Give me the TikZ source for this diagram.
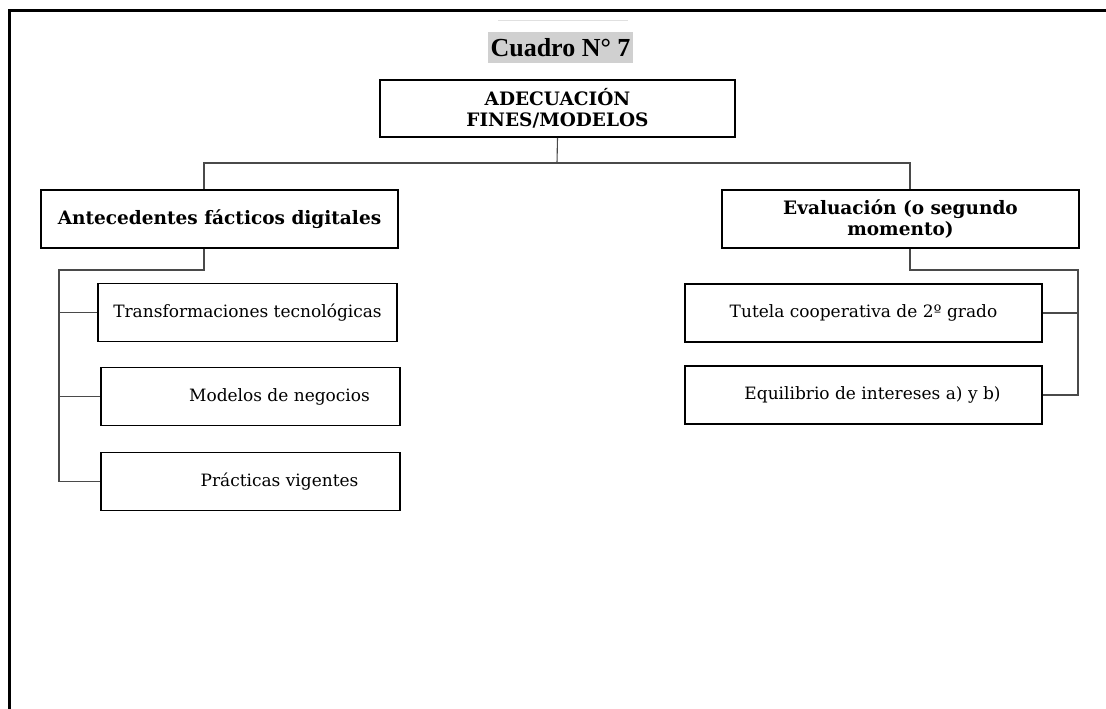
\documentclass[tikz,border=0pt]{standalone}
\usepackage{fontspec}
\setmainfont{DejaVu Serif}
\newfontfamily\titlefont{Liberation Serif}
\definecolor{titlegray}{HTML}{D0D0D0}
\definecolor{linkgray}{HTML}{4A4A4A}

\begin{document}
\begin{tikzpicture}[
            x=1pt, y=-1pt,
            boxnode/.style={
                draw, line width=1.8pt, align=center, inner sep=2pt,
                minimum width=357pt, minimum height=58pt,
                font=\fontsize{17}{21}\selectfont
            },
            headnode/.style={
                boxnode, font=\bfseries\fontsize{18.5}{21.5}\selectfont
            },
            itemnode/.style={
                boxnode, minimum width=299pt
            },
            link/.style={
                draw=linkgray, line width=1.1pt
            }
        ]
        \useasboundingbox (0,0) rectangle (1106,709);
        \draw[line width=3pt] (9,709) -- (9,11) -- (1106,11);
        \draw[black!12, line width=0.8pt] (498,20) -- (628,20);

        % nodes
        \node[fill=titlegray, minimum width=145pt, minimum height=31pt, inner sep=0pt,
              font=\titlefont\bfseries\fontsize{26}{26}\selectfont] (title) at (560.5,47.5) {Cuadro N° 7};
        \node[headnode, minimum width=355pt, minimum height=57pt] (top) at (557.5,108.5) {ADECUACIÓN\\FINES/MODELOS};
        \node[headnode] (ant) at (219.5,219) {Antecedentes fácticos digitales};
        \node[headnode] (eval) at (900.5,219) {Evaluación (o segundo\\momento)};
        \node[itemnode] (trans) at (247.5,312.5) {Transformaciones tecnológicas};
        \node[itemnode] (model) at (250.5,396.5) {\hspace*{58pt}Modelos de negocios};
        \node[itemnode] (pract) at (250.5,481.5) {\hspace*{58pt}Prácticas vigentes};
        \node[boxnode] (tutela) at (863.5,313) {Tutela cooperativa de 2º grado};
        \node[boxnode] (equil) at (863.5,395) {\hspace*{18pt}Equilibrio de intereses a) y b)};

        \coordinate (split) at (557,163);
        \coordinate (lbus) at (59,270);
        \coordinate (rbus) at (1078,270);

        % connectors
        \draw[link] (top.south) -- (split);
        \draw[link] (split) -| ([xshift=-15.5pt]ant.north);
        \draw[link] (split) -| ([xshift=9.5pt]eval.north);
        \draw[link] ([xshift=-15.5pt]ant.south) |- (lbus) |- (pract.west);
        \draw[link] (lbus |- trans.west) -- (trans.west);
        \draw[link] (lbus |- model.west) -- (model.west);
        \draw[link] ([xshift=9.5pt]eval.south) |- (rbus) |- (equil.east);
        \draw[link] (rbus |- tutela.east) -- (tutela.east);
        \end{tikzpicture}
\end{document}
